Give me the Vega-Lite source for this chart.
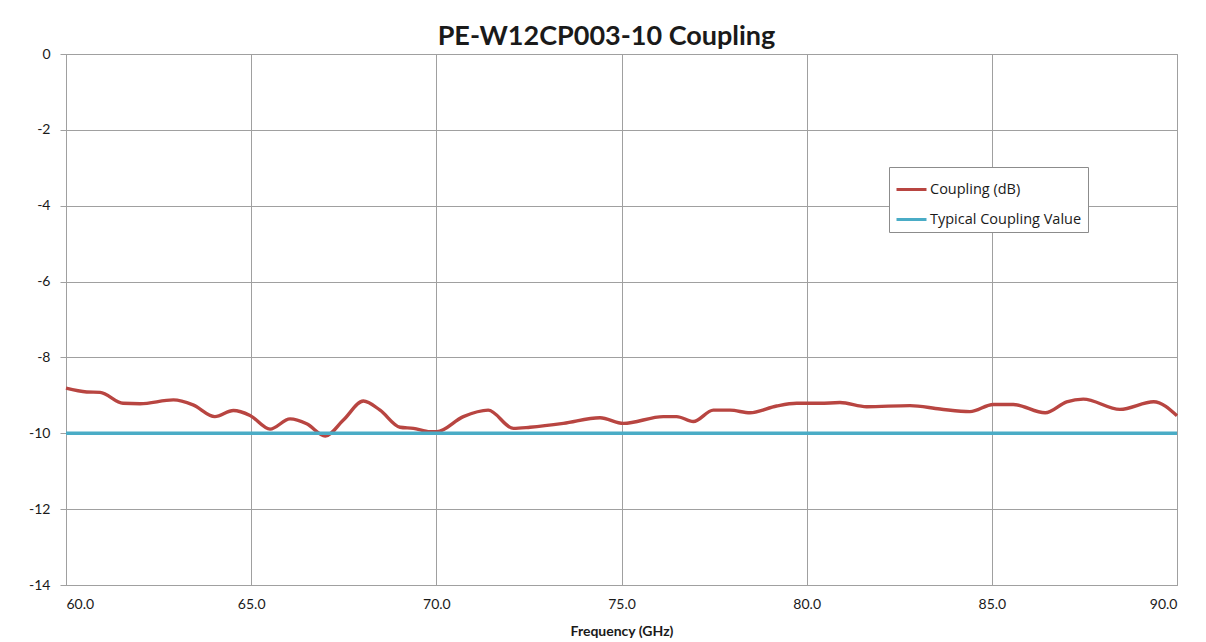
{
  "$schema": "https://vega.github.io/schema/vega-lite/v6.json",
  "width": 1111,
  "height": 531,
  "autosize": "none",
  "padding": {"left": 66, "top": 54, "right": 29, "bottom": 57},
  "background": "white",
  "title": {
    "text": "PE-W12CP003-10 Coupling",
    "font": "Lato",
    "fontSize": 27,
    "fontWeight": "bold",
    "color": "#1a1a1a",
    "anchor": "middle",
    "dx": -15,
    "offset": -4
  },
  "data": {
    "values": [
      {"f": 60.0, "v": -8.81, "s": "Coupling (dB)"},
      {"f": 60.56, "v": -8.91, "s": "Coupling (dB)"},
      {"f": 60.92, "v": -8.92, "s": "Coupling (dB)"},
      {"f": 61.54, "v": -9.21, "s": "Coupling (dB)"},
      {"f": 62.0, "v": -9.22, "s": "Coupling (dB)"},
      {"f": 62.9, "v": -9.12, "s": "Coupling (dB)"},
      {"f": 63.43, "v": -9.25, "s": "Coupling (dB)"},
      {"f": 64.02, "v": -9.56, "s": "Coupling (dB)"},
      {"f": 64.52, "v": -9.40, "s": "Coupling (dB)"},
      {"f": 64.97, "v": -9.53, "s": "Coupling (dB)"},
      {"f": 65.51, "v": -9.89, "s": "Coupling (dB)"},
      {"f": 66.05, "v": -9.62, "s": "Coupling (dB)"},
      {"f": 66.5, "v": -9.75, "s": "Coupling (dB)"},
      {"f": 67.0, "v": -10.07, "s": "Coupling (dB)"},
      {"f": 67.49, "v": -9.65, "s": "Coupling (dB)"},
      {"f": 68.03, "v": -9.15, "s": "Coupling (dB)"},
      {"f": 68.48, "v": -9.39, "s": "Coupling (dB)"},
      {"f": 69.02, "v": -9.84, "s": "Coupling (dB)"},
      {"f": 69.38, "v": -9.87, "s": "Coupling (dB)"},
      {"f": 69.83, "v": -9.96, "s": "Coupling (dB)"},
      {"f": 70.01, "v": -9.96, "s": "Coupling (dB)"},
      {"f": 70.73, "v": -9.56, "s": "Coupling (dB)"},
      {"f": 71.4, "v": -9.39, "s": "Coupling (dB)"},
      {"f": 72.08, "v": -9.87, "s": "Coupling (dB)"},
      {"f": 72.53, "v": -9.84, "s": "Coupling (dB)"},
      {"f": 73.43, "v": -9.74, "s": "Coupling (dB)"},
      {"f": 74.42, "v": -9.59, "s": "Coupling (dB)"},
      {"f": 75.05, "v": -9.74, "s": "Coupling (dB)"},
      {"f": 76.13, "v": -9.56, "s": "Coupling (dB)"},
      {"f": 76.49, "v": -9.56, "s": "Coupling (dB)"},
      {"f": 76.94, "v": -9.69, "s": "Coupling (dB)"},
      {"f": 77.48, "v": -9.39, "s": "Coupling (dB)"},
      {"f": 77.93, "v": -9.39, "s": "Coupling (dB)"},
      {"f": 78.47, "v": -9.46, "s": "Coupling (dB)"},
      {"f": 79.19, "v": -9.28, "s": "Coupling (dB)"},
      {"f": 79.73, "v": -9.21, "s": "Coupling (dB)"},
      {"f": 80.09, "v": -9.21, "s": "Coupling (dB)"},
      {"f": 80.36, "v": -9.21, "s": "Coupling (dB)"},
      {"f": 80.9, "v": -9.19, "s": "Coupling (dB)"},
      {"f": 81.62, "v": -9.30, "s": "Coupling (dB)"},
      {"f": 82.79, "v": -9.27, "s": "Coupling (dB)"},
      {"f": 83.6, "v": -9.36, "s": "Coupling (dB)"},
      {"f": 84.41, "v": -9.43, "s": "Coupling (dB)"},
      {"f": 85.04, "v": -9.24, "s": "Coupling (dB)"},
      {"f": 85.58, "v": -9.24, "s": "Coupling (dB)"},
      {"f": 86.44, "v": -9.46, "s": "Coupling (dB)"},
      {"f": 87.02, "v": -9.17, "s": "Coupling (dB)"},
      {"f": 87.47, "v": -9.10, "s": "Coupling (dB)"},
      {"f": 88.46, "v": -9.37, "s": "Coupling (dB)"},
      {"f": 89.37, "v": -9.17, "s": "Coupling (dB)"},
      {"f": 90.0, "v": -9.54, "s": "Coupling (dB)"},
      {"f": 60.0, "v": -10, "s": "Typical Coupling Value"},
      {"f": 90.0, "v": -10, "s": "Typical Coupling Value"}
    ]
  },
  "mark": {"type": "line", "interpolate": "monotone", "strokeWidth": 3.4, "clip": false},
  "encoding": {
    "x": {
      "field": "f",
      "type": "quantitative",
      "scale": {"domain": [60, 90], "nice": false, "zero": false},
      "axis": {
        "values": [60, 65, 70, 75, 80, 85, 90],
        "format": ".1f",
        "title": "Frequency (GHz)",
        "titleFont": "Lato",
        "titleFontSize": 14,
        "titleFontWeight": "bold",
        "titleColor": "#1a1a1a",
        "titlePadding": 13,
        "labelFont": "Lato",
        "labelFontSize": 14,
        "labelColor": "#1a1a1a",
        "labelPadding": 12,
        "ticks": false,
        "domainColor": "#a0a0a0",
        "gridColor": "#a0a0a0",
        "gridOpacity": 1
      }
    },
    "y": {
      "field": "v",
      "type": "quantitative",
      "scale": {"domain": [-14, 0], "nice": false, "zero": false},
      "axis": {
        "values": [0, -2, -4, -6, -8, -10, -12, -14],
        "labelExpr": "datum.value + ''",
        "title": null,
        "labelFont": "Lato",
        "labelFontSize": 14,
        "labelColor": "#1a1a1a",
        "labelPadding": 10,
        "tickSize": 6,
        "tickColor": "#a0a0a0",
        "domainColor": "#a0a0a0",
        "gridColor": "#a0a0a0",
        "gridOpacity": 1
      }
    },
    "color": {
      "field": "s",
      "type": "nominal",
      "scale": {
        "domain": ["Coupling (dB)", "Typical Coupling Value"],
        "range": ["#b84541", "#4aacc6"]
      },
      "legend": {
        "title": null,
        "orient": "none",
        "legendX": 823,
        "legendY": 113,
        "symbolType": "stroke",
        "symbolStrokeWidth": 3,
        "symbolSize": 900,
        "labelFont": "Open Sans",
        "labelFontSize": 14.5,
        "labelColor": "#1a1a1a",
        "rowPadding": 7,
        "padding": 6,
        "strokeColor": "#8c8c8c",
        "fillColor": "white",
        "labelOffset": 2
      }
    }
  },
  "config": {
    "view": {"stroke": "#a0a0a0"}
  }
}
